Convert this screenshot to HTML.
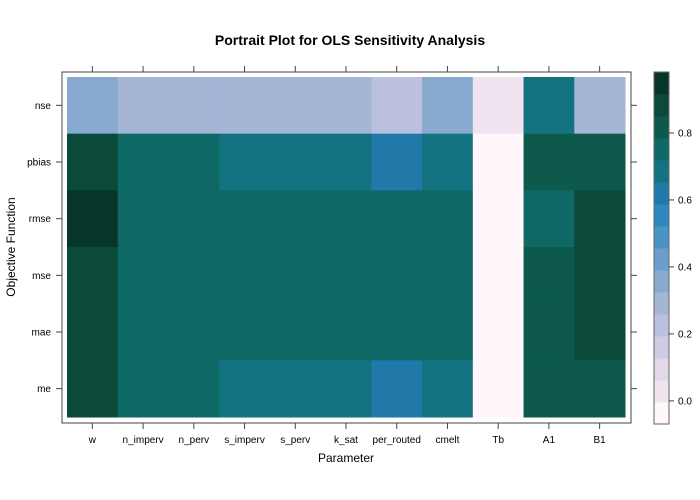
<!DOCTYPE html>
<html><head><meta charset="utf-8"><style>
html,body{margin:0;padding:0;background:#fff;}
svg{display:block;font-family:"Liberation Sans",Arial,sans-serif;}
</style></head><body>
<svg id="chart" width="700" height="500" viewBox="0 0 700 500">
<text x="350" y="45" text-anchor="middle" font-size="14" font-weight="bold">Portrait Plot for OLS Sensitivity Analysis</text>
<text x="346" y="462" text-anchor="middle" font-size="12">Parameter</text>
<text transform="translate(15,247) rotate(-90)" text-anchor="middle" font-size="12">Objective Function</text>
<g id="cells"></g>
<g id="axes"></g>
<g id="cbar"></g>
<rect x="62" y="72" width="569" height="351" fill="none" stroke="#444" stroke-width="1"/>
</svg>
<script>
const params = ["w","n_imperv","n_perv","s_imperv","s_perv","k_sat","per_routed","cmelt","Tb","A1","B1"];
const objectives = ["nse","pbias","rmse","mse","mae","me"];
const nseVals   = [0.358,0.292,0.292,0.292,0.292,0.292,0.227,0.358,0.030,0.686,0.292];
const pbiasVals = [0.883,0.752,0.752,0.686,0.686,0.686,0.620,0.686,-0.036,0.818,0.818];
const rmseVals  = [0.949,0.752,0.752,0.752,0.752,0.752,0.752,0.752,-0.036,0.752,0.883];
const mseVals   = [0.883,0.752,0.752,0.752,0.752,0.752,0.752,0.752,-0.036,0.818,0.883];
const maeVals   = [0.883,0.752,0.752,0.752,0.752,0.752,0.752,0.752,-0.036,0.818,0.883];
const meVals    = [0.883,0.752,0.752,0.686,0.686,0.686,0.620,0.686,-0.036,0.818,0.818];
const colorTicks = [0.0,0.2,0.4,0.6,0.8];
const palette = ["#FFF7FB","#F0E4F1","#E2D7EB","#D0CBE4","#BBC0DE","#A5B5D6","#89AACF","#6A9FCB","#4A94C4","#3088BF","#2079A8","#137381","#0E6866","#0D5A4C","#0B4A3A","#08352A"];
const vmin=-0.069, vmax=0.982;
const rows=[nseVals,pbiasVals,rmseVals,mseVals,maeVals,meVals];
const NS="http://www.w3.org/2000/svg";
function mk(tag,attrs,parent){const e=document.createElementNS(NS,tag);for(const k in attrs)e.setAttribute(k,attrs[k]);parent.appendChild(e);return e;}
const cx0=67, cx1=625, cy0=77, cy1=417;
const cw=(cx1-cx0)/params.length, ch=(cy1-cy0)/objectives.length;
function xPos(i){return cx0+i*cw;}
function yPos(j){return cy0+j*ch;}
function colorOf(v){let b=Math.floor((v-vmin)/(vmax-vmin)*palette.length);b=Math.max(0,Math.min(palette.length-1,b));return palette[b];}
const cells=document.getElementById('cells');
rows.forEach((r,j)=>r.forEach((v,i)=>{
  const e=mk('rect',{x:xPos(i),y:yPos(j),width:cw+0.5,height:ch+0.5,fill:colorOf(v)},cells);
  
  
}));
const axes=document.getElementById('axes');
params.forEach((p,i)=>{
  const x=xPos(i)+cw/2;
  mk('line',{x1:x,x2:x,y1:66,y2:72,stroke:'#444'},axes);
  mk('line',{x1:x,x2:x,y1:423,y2:429,stroke:'#444'},axes);
  const t=mk('text',{x:x,y:443,'text-anchor':'middle','font-size':'10',fill:'#000'},axes);
  t.textContent=p;
  
  
});
objectives.forEach((o,j)=>{
  const y=yPos(j)+ch/2;
  mk('line',{x1:56,x2:62,y1:y,y2:y,stroke:'#444'},axes);
  mk('line',{x1:631,x2:637,y1:y,y2:y,stroke:'#444'},axes);
  const t=mk('text',{x:51,y:y+3.5,'text-anchor':'end','font-size':'10',fill:'#000'},axes);
  t.textContent=o;
  
  
});
const cb=document.getElementById('cbar');
const by0=72, by1=424, bx=654, bw=15;
function cbY(v){return by1-(v-vmin)/(vmax-vmin)*(by1-by0);}
palette.forEach((c,k)=>{
  const lo=vmin+k*(vmax-vmin)/palette.length, hi=vmin+(k+1)*(vmax-vmin)/palette.length;
  const e=mk('rect',{x:bx,y:cbY(hi),width:bw,height:cbY(lo)-cbY(hi)+0.5,fill:c},cb);
  
  
});
mk('rect',{x:bx,y:by0,width:bw,height:by1-by0,fill:'none',stroke:'#666'},cb);
colorTicks.forEach(v=>{
  const y=cbY(v);
  mk('line',{x1:bx+bw,x2:bx+bw+5,y1:y,y2:y,stroke:'#444'},cb);
  const t=mk('text',{x:678,y:y+3.5,'font-size':'10',fill:'#000'},cb);
  t.textContent=v.toFixed(1);
  
  
});
</script>
</body></html>
